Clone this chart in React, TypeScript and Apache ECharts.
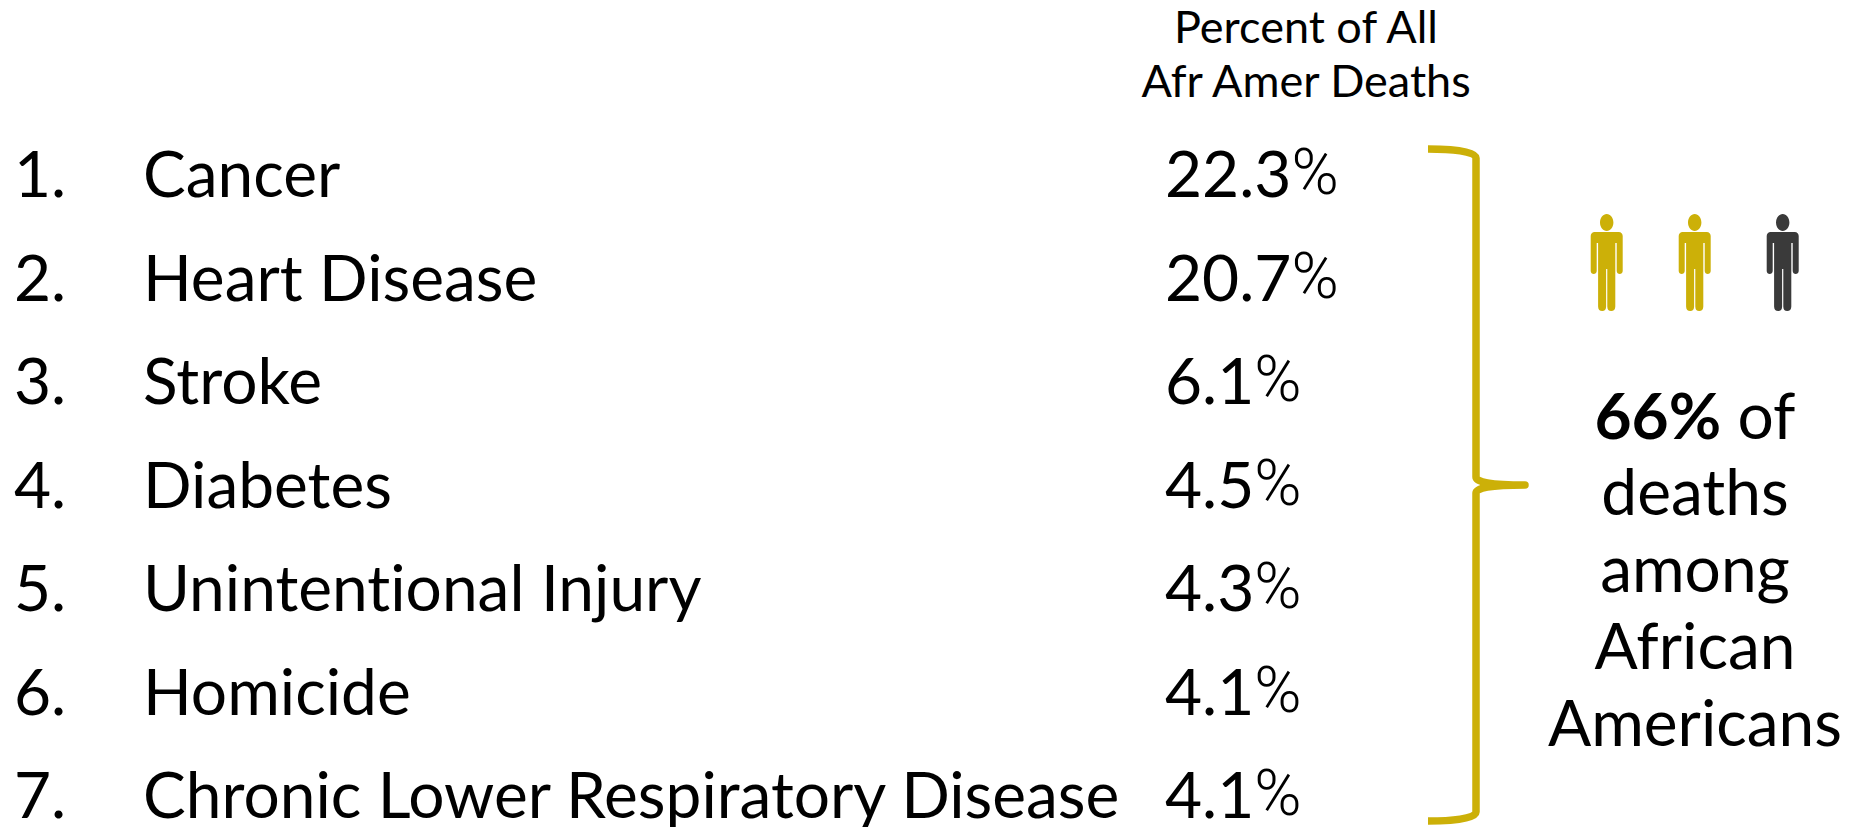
import React, { useEffect, useRef } from "react";
import * as echarts from "echarts";

const ranks = ["1.", "2.", "3.", "4.", "5.", "6.", "7."];
const causes = [
  "Cancer",
  "Heart Disease",
  "Stroke",
  "Diabetes",
  "Unintentional Injury",
  "Homicide",
  "Chronic Lower Respiratory Disease",
];
const percents = [22.3, 20.7, 6.1, 4.5, 4.3, 4.1, 4.1];
const headerLines = ["Percent of All", "Afr Amer Deaths"];
const summaryLines = ["deaths", "among", "African", "Americans"];
const personColors = ["#CCB008", "#CCB008", "#3A3A3A"];

const FONT = "Lato, sans-serif";
const GOLD = "#CCB008";
const SIZE = 64;

const BRACE =
  "M0,0 C22,0 48,2 48,9 V328 C48,333 62,336 97,336 C62,336 48,339 48,344 V663 C48,670 22,672 0,672";
const PERSON =
  "M16,0 C19.7,0 22.7,3.8 22.7,8.5 C22.7,13.2 19.7,17 16,17 C12.3,17 9.3,13.2 9.3,8.5 C9.3,3.8 12.3,0 16,0 Z " +
  "M4,18 H28 C30.5,18 32,20 32,22 V57 C32,59 30.5,60 29,60 C27.5,60 26,59 26,57 V29 H24.6 V92.5 C24.6,95.5 23,97 20.5,97 C18,97 16.6,95.5 16.6,92.5 V55 H15.4 V92.5 C15.4,95.5 14,97 11.5,97 C9,97 7.4,95.5 7.4,92.5 V29 H6 V57 C6,59 4.5,60 3,60 C1.5,60 0,59 0,57 V22 C0,20 1.5,18 4,18 Z";

echarts.graphic.registerShape("brace", echarts.graphic.extendPath(BRACE, {}) as any);
echarts.graphic.registerShape("person", echarts.graphic.extendPath(PERSON, {}) as any);

const columnSeries = (xPos: number, texts: string[], extra: any = {}) => ({
  type: "scatter",
  symbolSize: 0,
  silent: true,
  itemStyle: { opacity: 1 },
  data: texts.map((t, i) => ({ value: [xPos, i], text: t })),
  label: {
    show: true,
    position: "right",
    distance: 0,
    color: "#000",
    fontFamily: FONT,
    fontSize: SIZE,
    formatter: (p: any) => p.data.text,
    ...extra,
  },
});

export default function App() {
  const ref = useRef<HTMLDivElement>(null);
  useEffect(() => {
    document.body.style.margin = "0";
    const chart = echarts.init(ref.current!, null, { renderer: "svg" });
    const txt = (x: number, y: number, text: string, fontSize: number) => ({
      type: "text",
      x,
      y,
      style: { text, fontSize, fontFamily: FONT, fill: "#000", align: "center", verticalAlign: "middle" },
    });
    chart.setOption({
      animation: false,
      backgroundColor: "#fff",
      grid: { left: 0, top: 121, width: 1858, height: 706 },
      xAxis: { type: "value", min: 0, max: 1858, show: false },
      yAxis: { type: "value", min: -0.5, max: 6.32, inverse: true, show: false },
      series: [
        columnSeries(14, ranks),
        columnSeries(143, causes),
        columnSeries(
          1165,
          percents.map((v) => `${v}{p|%}`),
          {
            rich: {
              p: { fontFamily: "Roboto, sans-serif", fontWeight: 300, fontSize: SIZE, color: "#000" },
            },
          },
        ),
      ],
      graphic: [
        ...headerLines.map((l, i) => txt(1306, 26 + i * 54, l, 45)),
        {
          type: "brace",
          x: 1428,
          y: 149,
          style: { fill: "none", stroke: GOLD, lineWidth: 7.5, lineCap: "butt", lineJoin: "round" },
        },
        ...personColors.map((c, i) => ({
          type: "person",
          x: 1590.7 + i * 88,
          y: 214,
          style: { fill: c, stroke: "none" },
        })),
        {
          type: "text",
          x: 1695,
          y: 414,
          style: {
            text: "{b|66%} {r|of}",
            align: "center",
            verticalAlign: "middle",
            fontFamily: FONT,
            fontSize: SIZE,
            fill: "#000",
            rich: {
              b: { fontWeight: "bold", fontSize: SIZE, fontFamily: FONT, fill: "#000" },
              r: { fontSize: SIZE, fontFamily: FONT, fill: "#000" },
            },
          },
        },
        ...summaryLines.map((l, i) => txt(1695, 490 + i * 77, l, SIZE)),
      ],
    });
    return () => chart.dispose();
  }, []);
  return (
    <div
      ref={ref}
      style={{ width: 1858, height: 827, position: "fixed", left: 0, top: 0, fontVariantLigatures: "none" }}
    />
  );
}
